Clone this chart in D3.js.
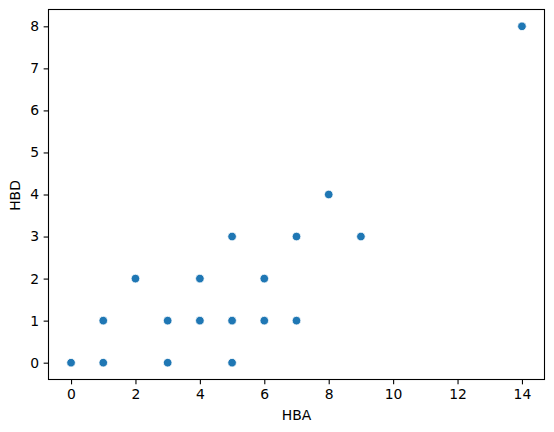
<!DOCTYPE html>
<html><head><meta charset="utf-8">
<script src="https://cdn.jsdelivr.net/npm/d3@7"></script>
<style>body{margin:0;background:#fff}svg{display:block}text{font-family:"DejaVu Sans",sans-serif;fill:#000}</style>
</head><body>
<script>
const hba = [0,1,1,2,3,3,4,4,5,5,5,6,6,7,7,8,9,14];
const hbd = [0,0,1,2,0,1,1,2,0,1,3,1,2,1,3,4,3,8];
const xTicks = [0,2,4,6,8,10,12,14];
const yTicks = [0,1,2,3,4,5,6,7,8];
const xLabel = "HBA", yLabel = "HBD";

const W=554,H=432;
const L=48.5,R=544.5,T=9.5,B=379.5;
const svg=d3.select("body").append("svg").attr("width",W).attr("height",H);
const x=d3.scaleLinear().domain([-0.7,14.7]).range([L,R]);
const y=d3.scaleLinear().domain([-0.4,8.4]).range([B,T]);

const xa=svg.append("g").attr("transform",`translate(0,${B})`)
  .call(d3.axisBottom(x).tickValues(xTicks).tickSize(4.86).tickPadding(4.5).tickFormat(d3.format("d")));
const ya=svg.append("g").attr("transform",`translate(${L},0)`)
  .call(d3.axisLeft(y).tickValues(yTicks).tickSize(4.86).tickPadding(4.5).tickFormat(d3.format("d")));
[xa,ya].forEach(a=>{a.select(".domain").remove();a.selectAll("line").attr("stroke","#000").attr("stroke-width",1.1);
  a.selectAll("text").attr("font-size","13.9px").attr("font-family","DejaVu Sans");});

svg.append("rect").attr("x",L).attr("y",T).attr("width",R-L).attr("height",B-T)
  .attr("fill","none").attr("stroke","#000").attr("stroke-width",1.1);

svg.append("g").selectAll("circle").data(hba.map((v,i)=>[v,hbd[i]])).join("circle")
  .attr("cx",d=>x(d[0])).attr("cy",d=>y(d[1])).attr("r",4.3)
  .attr("fill","#1f77b4").attr("stroke","#fff").attr("stroke-width",0.8);

svg.append("text").attr("x",(L+R)/2).attr("y",419.5).attr("text-anchor","middle").attr("font-size","13.9px").text(xLabel);
svg.append("text").attr("transform",`translate(19.5,${(T+B)/2+1}) rotate(-90)`).attr("text-anchor","middle").attr("font-size","13.9px").text(yLabel);
</script>
</body></html>
